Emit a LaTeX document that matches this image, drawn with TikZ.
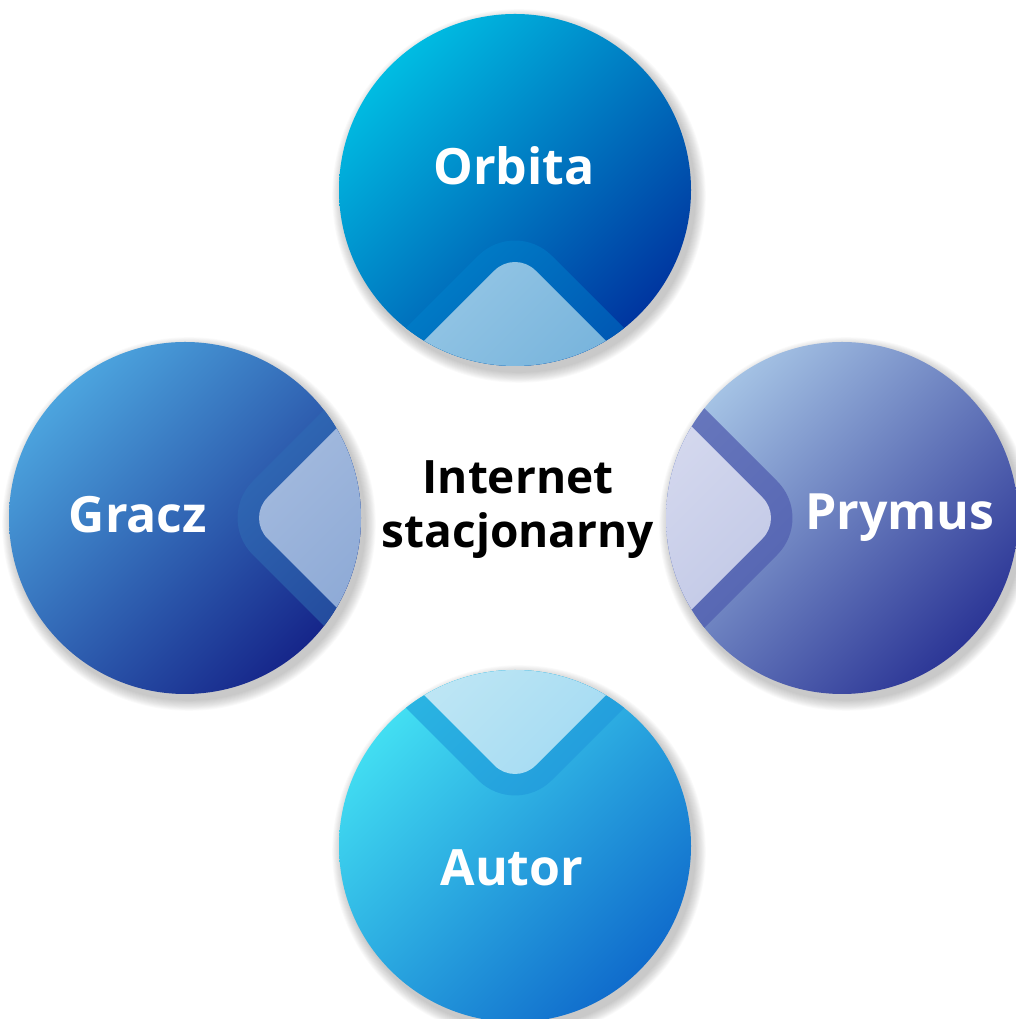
\documentclass[tikz,border=0pt]{standalone}
\usepackage{fontspec}
\setmainfont{Open Sans}
\definecolor{Oa}{HTML}{00BCE2}\definecolor{Ob}{HTML}{0068BC}\definecolor{Oc}{HTML}{0036A0}
\definecolor{Od}{HTML}{00A4DA}\definecolor{Oe}{HTML}{0058B4}\definecolor{Of}{HTML}{B4DAEF}\definecolor{Og}{HTML}{78B4DC}
\definecolor{Ga}{HTML}{4CA4DE}\definecolor{Gb}{HTML}{2A58A8}\definecolor{Gc}{HTML}{16268A}
\definecolor{Gd}{HTML}{3C86CC}\definecolor{Ge}{HTML}{244C9E}\definecolor{Gf}{HTML}{BCCDE8}\definecolor{Gg}{HTML}{8EAAD6}
\definecolor{Pa}{HTML}{A4C2E4}\definecolor{Pb}{HTML}{5E70BC}\definecolor{Pc}{HTML}{2C3696}
\definecolor{Pd}{HTML}{6676BC}\definecolor{Pe}{HTML}{4656AA}\definecolor{Pf}{HTML}{D4D8EE}\definecolor{Pg}{HTML}{AEB8DE}
\definecolor{Aa}{HTML}{42DEF2}\definecolor{Ab}{HTML}{22A2E0}\definecolor{Ac}{HTML}{106CCC}
\definecolor{Ad}{HTML}{2AB4E2}\definecolor{Ae}{HTML}{1C84D6}\definecolor{Af}{HTML}{BEE6F4}\definecolor{Ag}{HTML}{86CEF0}
\newcommand\bubble[3]{%
  \foreach \i in {1,...,12}{\fill[black,opacity=0.018] (#1+4,#2-6) circle[radius=176pt+\i*0.9pt];}
  \begin{scope}
    \clip (#1,#2) circle[radius=176pt];
    \shade[top color=#3a, middle color=#3b, bottom color=#3c, shading angle=45] (#1-176,#2-176) rectangle (#1+176,#2+176);
    \begin{scope}
      \clip[rounded corners=52pt] (515,800) -- (814,501) -- (515,202) -- (216,501) -- cycle;
      \shade[top color=#3d, bottom color=#3e, shading angle=45] (#1-176,#2-176) rectangle (#1+176,#2+176);
    \end{scope}
    \begin{scope}
      \clip[rounded corners=29pt] (515,769) -- (783,501) -- (515,233) -- (247,501) -- cycle;
      \shade[top color=#3f, bottom color=#3g, shading angle=45] (#1-176,#2-176) rectangle (#1+176,#2+176);
    \end{scope}
  \end{scope}}
\begin{document}
\begin{tikzpicture}[x=1pt,y=1pt,
  lbl/.style={text=white, font=\fontsize{50}{60}\selectfont\bfseries, inner sep=0pt, anchor=base},
  ctr/.style={text=black, font=\fontsize{46}{54}\selectfont\bfseries, inner sep=0pt, align=center}]
\useasboundingbox (0,0) rectangle (1016,1019);
\bubble{515}{829}{O}
\bubble{185}{501}{G}
\bubble{842}{501}{P}
\bubble{515}{173}{A}
\node[lbl] (orbita) at (514,834) {Orbita};
\node[lbl] (gracz) at (138,486) {Gracz};
\node[lbl] (prymus) at (900,489) {Prymus};
\node[lbl] (autor) at (512,133) {Autor};
\node[ctr] (center) at (518,509) {Internet\\stacjonarny};
\end{tikzpicture}
\end{document}
